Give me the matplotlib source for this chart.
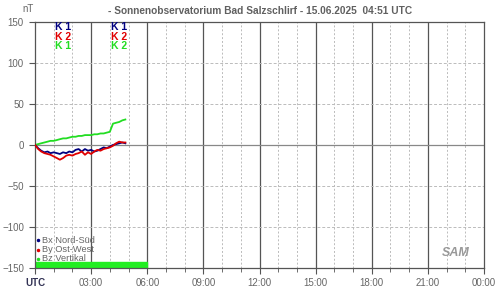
import matplotlib
matplotlib.use("Agg")
import matplotlib.pyplot as plt
import numpy as np

plt.rcParams["font.family"] = ["Liberation Sans", "DejaVu Sans"]

# time in hours UTC, 10-minute steps up to 04:50
hours = [0.0, 0.17, 0.33, 0.5, 0.67, 0.83, 1.0, 1.17, 1.33, 1.5, 1.67, 1.83, 2.0, 2.17, 2.33,
         2.5, 2.67, 2.83, 3.0, 3.17, 3.33, 3.5, 3.67, 3.83, 4.0, 4.17, 4.33, 4.5, 4.67, 4.83]
bx_nord_sued = [0, -4, -7, -9, -8, -10, -9, -10, -11, -9, -10, -8, -9, -6, -5,
                -8, -5, -7, -6, -8, -7, -5, -3, -4, -2, 0, 1, 2, 3, 2]
by_ost_west = [0, -5, -8, -10, -11, -12, -14, -16, -18, -16, -13, -12, -13, -11, -10,
               -8, -12, -9, -11, -8, -6, -7, -5, -4, -3, -1, 2, 4, 3, 3]
bz_vertikal = [0, 1, 2, 3, 4, 5, 5, 6, 7, 8, 8, 9, 10, 10, 11,
               11, 12, 12, 12, 13, 13, 14, 14, 15, 16, 26, 27, 28, 30, 31]

x_labels = ["UTC", "03:00", "06:00", "09:00", "12:00", "15:00", "18:00", "21:00", "00:00"]
y_ticks = [150, 100, 50, 0, -50, -100, -150]

# K-index labels: (hour, [(text, color), ...])
k_blocks = [(1.5, [("K 1", "#000080"), ("K 2", "#e00000"), ("K 1", "#22dd22")]),
            (4.5, [("K 1", "#000080"), ("K 2", "#e00000"), ("K 2", "#22dd22")])]
coverage = (0, 6)  # green bar at bottom

fig = plt.figure(figsize=(5, 2.93), dpi=100)
ax = fig.add_axes([0.07, 0.0853, 0.898, 0.84])
ax.set_xlim(0, 24)
ax.set_ylim(-150, 150)

# grid
for h in range(1, 24):
    if h % 3 == 0:
        ax.axvline(h, color="#555555", lw=0.9, zorder=1)
    else:
        ax.axvline(h, color="#bbbbbb", lw=0.7, ls=(0, (2, 2)), zorder=1)
for v in [100, 50, -50, -100]:
    ax.axhline(v, color="#bbbbbb", lw=0.7, ls=(0, (3, 2)), zorder=1)
ax.axhline(0, color="#888888", lw=0.9, zorder=1)

ax.plot(hours, bz_vertikal, color="#22dd22", lw=1.3, zorder=3)
ax.plot(hours, bx_nord_sued, color="#000080", lw=1.3, zorder=3)
ax.plot(hours, by_ost_west, color="#e00000", lw=1.3, zorder=3)

ax.axhspan(-150, -143, xmin=coverage[0] / 24, xmax=coverage[1] / 24, color="#22ee22", zorder=2)

for h, items in k_blocks:
    for i, (txt, col) in enumerate(items):
        ax.text(h, 144 - i * 12, txt, color=col, fontsize=7.5, fontweight="bold",
                ha="center", va="center", zorder=4)

legend_items = [("Bx Nord-Süd", "#000080"), ("By Ost-West", "#e00000"), ("Bz Vertikal", "#22dd22")]
for i, (txt, col) in enumerate(legend_items):
    y = -116 - i * 11.5
    ax.plot(0.15, y, marker="o", ms=1.5, color=col, zorder=4)
    ax.text(0.4, y, txt, color="#666666", fontsize=6.7, va="center", zorder=4)

ax.text(22.5, -132, "SAM", color="#999999", fontsize=9, fontstyle="italic",
        fontweight="bold", ha="center", va="center")

for s in ax.spines.values():
    s.set_color("#555555")
    s.set_linewidth(0.9)

ax.set_xticks(range(0, 25, 3))
ax.set_xticklabels(x_labels)
ax.set_xticks(range(0, 25), minor=True)
ax.set_yticks(y_ticks)
ax.tick_params(axis="both", colors="#555555", labelcolor="#666666", labelsize=7,
               length=4, width=0.8)
ax.tick_params(axis="x", which="minor", length=3, colors="#555555")
ax.tick_params(axis="y", pad=4)
ax.get_xticklabels()[0].set_color("#333355")
ax.get_xticklabels()[0].set_fontweight("bold")

fig.text(0.056, 0.97, "nT", color="#666666", fontsize=7, ha="center", va="center")
fig.text(0.52, 0.962, "- Sonnenobservatorium Bad Salzschlirf - 15.06.2025  04:51 UTC",
         color="#606060", fontsize=7.3, fontweight="bold", ha="center", va="center")

fig.savefig("out.png", dpi=100)
